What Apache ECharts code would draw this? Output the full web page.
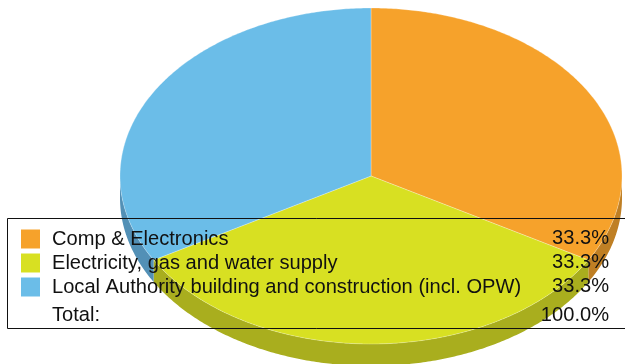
<!DOCTYPE html>
<html>
<head>
<meta charset="utf-8">
<style>html,body{margin:0;padding:0;background:#fff}#c{width:625px;height:364px}</style>
<script src="https://cdn.jsdelivr.net/npm/echarts@6/dist/echarts.min.js"></script>
</head>
<body>
<div id="c"></div>
<script>
var categories = ['Comp & Electronics', 'Electricity, gas and water supply', 'Local Authority building and construction (incl. OPW)'];
var values = [33.3, 33.3, 33.3];
var percentLabels = ['33.3%', '33.3%', '33.3%'];
var totalLabel = 'Total:';
var totalValue = '100.0%';
var topColors = ['#F6A22B', '#D8E022', '#6BBDE8'];
var sideColors = ['#BF7F24', '#A9AE1E', '#5290B6'];

var CX = 371, CY = 176, RX = 251, RY = 168, DEPTH = 22;
var FONT = 'Liberation Sans, Arial, sans-serif';
var FONT_SIZE = 20.1;
var sum = values.reduce(function (a, b) { return a + b; }, 0);

function rim(a, dy) {
  return [CX + RX * Math.sin(a), CY - RY * Math.cos(a) + (dy || 0)];
}
function arc(a0, a1, dy) {
  var pts = [], n = Math.max(2, Math.ceil(Math.abs(a1 - a0) / 0.01));
  for (var i = 0; i <= n; i++) pts.push(rim(a0 + (a1 - a0) * i / n, dy));
  return pts;
}
function renderSlice(colorIndex) {
  return function (params, api) {
    var start = api.value(0) / sum * Math.PI * 2;
    var end = (api.value(0) + api.value(1)) / sum * Math.PI * 2;
    var children = [];
    var s0 = Math.max(start, Math.PI / 2), s1 = Math.min(end, Math.PI * 1.5);
    if (s1 > s0) {
      children.push({
        type: 'polygon',
        shape: { points: arc(s0, s1, 0).concat(arc(s1, s0, DEPTH)) },
        style: { fill: sideColors[colorIndex] }
      });
    }
    children.push({
      type: 'polygon',
      shape: { points: [[CX, CY]].concat(arc(start, end, 0)) },
      style: { fill: topColors[colorIndex], stroke: 'rgba(255,255,255,0.45)', lineWidth: 0.6 }
    });
    return { type: 'group', children: children };
  };
}

var cumulative = 0;
var series = categories.map(function (name, i) {
  var d = [cumulative, values[i]];
  cumulative += values[i];
  return {
    type: 'custom',
    name: name,
    coordinateSystem: 'none',
    renderItem: renderSlice(i),
    itemStyle: { color: topColors[i] },
    data: [d],
    silent: true,
    animation: false,
    clip: false,
    z: 1
  };
});

var textFont = FONT_SIZE + 'px ' + FONT;
var graphics = [{
  type: 'rect',
  shape: { x: 7.5, y: 218.5, width: 640, height: 110 },
  style: { fill: null, stroke: '#111', lineWidth: 1 },
  z: 10
}];
percentLabels.forEach(function (t, i) {
  graphics.push({
    type: 'text', x: 609, y: 238 + i * 24, z: 11,
    style: { text: t, font: textFont, fill: '#111', textAlign: 'right', textVerticalAlign: 'middle' }
  });
});
graphics.push({
  type: 'text', x: 52, y: 315, z: 11,
  style: { text: totalLabel, font: textFont, fill: '#111', textAlign: 'left', textVerticalAlign: 'middle' }
});
graphics.push({
  type: 'text', x: 609, y: 315, z: 11,
  style: { text: totalValue, font: textFont, fill: '#111', textAlign: 'right', textVerticalAlign: 'middle' }
});

var chart = echarts.init(document.getElementById('c'), null, { renderer: 'canvas' });
chart.setOption({
  animation: false,
  backgroundColor: '#fff',
  legend: {
    left: 21, top: 229, orient: 'vertical', padding: 0,
    itemWidth: 19, itemHeight: 19, itemGap: 4,
    icon: 'rect', selectedMode: false, z: 11,
    data: categories,
    textStyle: { fontFamily: FONT, fontSize: FONT_SIZE, lineHeight: 19, color: '#111', padding: [0, 0, 0, 7] }
  },
  graphic: graphics,
  series: series
});
</script>
</body>
</html>
